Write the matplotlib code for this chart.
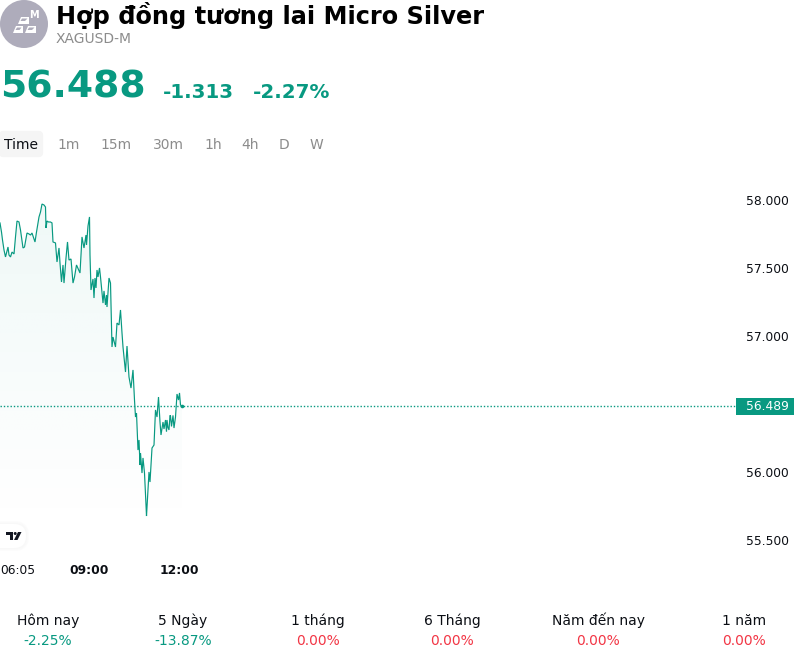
import matplotlib
matplotlib.use("Agg")
import matplotlib.pyplot as plt
import numpy as np
from matplotlib.patches import Circle, FancyBboxPatch, Polygon, Rectangle
from matplotlib.transforms import ScaledTranslation

TEAL = "#089981"
RED = "#f23645"
GREY = "#8c8c8c"
INK = "#0b0e14"

# Session minutes since midnight and the traded price at each of them
minutes = [362, 365, 367, 370, 373, 378, 380, 383, 386, 390, 393, 396, 400, 403, 408, 411,
           416, 420, 423, 426, 432, 435, 440, 443, 446, 450, 453, 454, 456, 459, 463, 466,
           468, 473, 476, 480, 482, 485, 488, 490, 494, 497, 500, 504, 508, 511, 515, 522,
           526, 530, 534, 535, 538, 541, 542, 544, 548, 550, 552, 554, 556, 558, 561, 563,
           568, 570, 573, 575, 576, 580, 583, 586, 588, 593, 596, 600, 603, 606, 608, 613,
           616, 620, 624, 628, 631, 633, 635, 638, 640, 642, 643, 646, 648, 651, 654, 655,
           660, 662, 666, 670, 673, 676, 679, 682, 684, 688, 690, 693, 695, 696, 698, 700,
           702, 703, 705, 706, 708, 710, 713, 716, 719, 721, 723, 726]
prices = [57.835, 57.768, 57.710, 57.636, 57.585, 57.658, 57.599, 57.585, 57.621, 57.607,
          57.732, 57.849, 57.842, 57.783, 57.651, 57.658, 57.761, 57.754, 57.746, 57.761,
          57.695, 57.768, 57.879, 57.915, 57.974, 57.967, 57.952, 57.798, 57.849, 57.842,
          57.842, 57.835, 57.695, 57.688, 57.548, 57.651, 57.540, 57.401, 57.526, 57.393,
          57.577, 57.695, 57.562, 57.570, 57.393, 57.437, 57.526, 57.467, 57.732, 57.651,
          57.746, 57.673, 57.812, 57.879, 57.599, 57.342, 57.423, 57.283, 57.430, 57.357,
          57.489, 57.438, 57.504, 57.438, 57.246, 57.335, 57.232, 57.305, 57.217, 57.430,
          57.393, 56.923, 56.996, 56.923, 57.099, 57.085, 57.195, 57.026, 56.923, 56.739,
          56.930, 56.702, 56.621, 56.754, 56.533, 56.408, 56.437, 56.165, 56.239, 56.055,
          56.143, 55.996, 56.107, 55.996, 55.761, 55.680, 56.004, 55.930, 56.180, 56.202,
          56.460, 56.408, 56.555, 56.371, 56.276, 56.371, 56.320, 56.386, 56.300, 56.386,
          56.330, 56.313, 56.420, 56.416, 56.340, 56.364, 56.420, 56.327, 56.408, 56.577,
          56.533, 56.585, 56.496, 56.489]
last_price = 56.489
price_ticks = [55.5, 56.0, 56.5, 57.0, 57.5, 58.0]
price_tick_labels = ["55.500", "56.000", "", "57.000", "57.500", "58.000"]
time_ticks = [365, 540, 720]
time_tick_labels = ["06:05", "09:00", "12:00"]
intervals = ["Time", "1m", "15m", "30m", "1h", "4h", "D", "W"]
interval_x = [21, 69, 116, 168, 213, 250, 284, 316]
periods = ["Hôm nay", "5 Ngày", "1 tháng", "6 Tháng", "Năm đến nay", "1 năm"]
period_changes = ["-2.25%", "-13.87%", "0.00%", "0.00%", "0.00%", "0.00%"]
period_x = [48, 183, 318, 452, 598, 744]

W, H = 800, 660
fig = plt.figure(figsize=(W / 100, H / 100), dpi=100, facecolor="white")
plt.rcParams["font.family"] = "DejaVu Sans"


def to_fig(left, top, right, bottom):
    return [left / W, 1 - bottom / H, (right - left) / W, (bottom - top) / H]


# Price pane: 0.5 px per minute, 136 px per unit of price
top_px, bottom_px, right_px = 165, 556, 736
ax = fig.add_axes(to_fig(0, top_px, right_px, bottom_px))
x_limits = (362, 362 + right_px * 2)
y_limits = (58 - (bottom_px - 200.5) / 136, 58 + (200.5 - top_px) / 136)
for side in ax.spines.values():
    side.set_visible(False)

# Area under the line fades to white towards the bottom
fade_floor = 58 - (528 - 200.5) / 136
gradient = np.linspace(0, 1, 256).reshape(-1, 1)
rgba = np.ones((256, 1, 4))
rgba[..., :3] = np.array([8, 153, 129]) / 255
rgba[..., 3] = 0.065 * (1 - gradient)
image = ax.imshow(rgba, origin="upper", aspect="auto", interpolation="bilinear",
                  extent=[minutes[0], minutes[-1], fade_floor, max(prices)], zorder=1)
poly = ax.fill_between(minutes, prices, fade_floor, facecolor="none", edgecolor="none")
image.set_clip_path(poly.get_paths()[0], transform=ax.transData)
ax.set_xlim(*x_limits)
ax.set_ylim(*y_limits)

ax.plot(minutes, prices, color=TEAL, lw=0.85, zorder=3, solid_joinstyle="miter")
ax.axhline(last_price, color=TEAL, lw=1, ls=(0, (1, 1.4)), zorder=2)
ax.plot(minutes[-1], last_price, "o", color=TEAL, ms=2.6, mew=0, zorder=4)

ax.yaxis.tick_right()
ax.set_yticks(price_ticks, price_tick_labels, fontsize=8.8, color=INK)
ax.tick_params(axis="y", length=0, pad=7.2)
ax.set_xticks(time_ticks, time_tick_labels, fontsize=8.8, color=INK)
ax.tick_params(axis="x", length=0, pad=5.9)
labels = ax.get_xticklabels()
labels[0].set_ha("left")
labels[0].set_transform(labels[0].get_transform()
                        + ScaledTranslation(-1.5 / 100, 0, fig.dpi_scale_trans))
labels[1].set_fontweight("bold")
labels[2].set_fontweight("bold")

# Overlay in figure pixels for the header, tabs and footer
ov = fig.add_axes([0, 0, 1, 1], facecolor="none", zorder=5)
ov.set_xlim(0, W)
ov.set_ylim(H, 0)
ov.axis("off")

# Round symbol badge with bullion bars
BADGE = "#aeacbb"
ov.add_patch(Circle((24, 24), 24, facecolor=BADGE, edgecolor="none"))
for pts in ([(21, 17), (29, 17), (29, 24), (18, 24)],
            [(16, 26), (23, 26), (23, 33), (13, 33)],
            [(28, 26), (36, 26), (36, 33), (25, 33)]):
    ov.add_patch(Polygon(pts, closed=True, facecolor="white", edgecolor="none"))
for pts in ([(22, 18.5), (27.5, 18.5), (25, 21), (20.5, 21)],
            [(17, 27.5), (21.5, 27.5), (19.5, 30), (15.5, 30)],
            [(29, 27.5), (34.5, 27.5), (32, 30), (27.5, 30)]):
    ov.add_patch(Polygon(pts, closed=True, facecolor=BADGE, edgecolor="none"))
ov.text(33.7, 14.5, "M", color="white", fontsize=7, fontweight="bold", ha="center", va="center")

ov.text(56, 24, "Hợp đồng tương lai Micro Silver", fontsize=17.3, fontweight="bold",
        color="black", va="baseline")
ov.text(56, 43, "XAGUSD-M", fontsize=10, color=GREY, va="baseline")

ov.text(0, 98, "56.488", fontsize=27.2, fontweight="bold", color=TEAL, va="baseline")
ov.text(163, 98, "-1.313", fontsize=14.3, fontweight="bold", color=TEAL, va="baseline")
ov.text(253, 98, "-2.27%", fontsize=14.3, fontweight="bold", color=TEAL, va="baseline")

# Interval selector
ov.add_patch(FancyBboxPatch((3, 135), 36, 18, boxstyle="round,pad=0,rounding_size=0",
                            facecolor="#f5f5f5", edgecolor="#f5f5f5", lw=6, joinstyle="round"))
for i, (name, x) in enumerate(zip(intervals, interval_x)):
    ov.text(x, 149, name, fontsize=10, color=INK if i == 0 else GREY,
            ha="center", va="baseline")

# Last price tag
ov.add_patch(Rectangle((736, 398), 58, 17, facecolor=TEAL, edgecolor="none"))
ov.text(767, 406.5, "56.489", fontsize=8.8, color="white", ha="center", va="center")

# Chart attribution badge with a soft edge
for grow, shade in ((3, "#fcfcfc"), (2, "#fafafa"), (1, "#f8f8f8")):
    ov.add_patch(FancyBboxPatch((-20 - grow, 524 - grow), 46 + 2 * grow, 24 + 2 * grow,
                                boxstyle=f"round,pad=0,rounding_size={12 + grow}",
                                facecolor=shade, edgecolor="none"))
ov.add_patch(FancyBboxPatch((-20, 524), 46, 24, boxstyle="round,pad=0,rounding_size=12",
                            facecolor="white", edgecolor="none"))
ov.add_patch(Polygon([(6, 532), (13, 532), (13, 540), (10, 540), (10, 535), (6, 535)],
                     closed=True, facecolor="#131722", edgecolor="none"))
ov.add_patch(Circle((15.2, 533.5), 1.5, facecolor="#131722", edgecolor="none"))
ov.add_patch(Polygon([(18, 532), (21.5, 532), (17.5, 540), (14, 540)],
                     closed=True, facecolor="#131722", edgecolor="none"))

# Performance footer
for name, change, x in zip(periods, period_changes, period_x):
    ov.text(x, 625, name, fontsize=10, color=INK, ha="center", va="baseline")
    ov.text(x, 645, change, fontsize=10, color=TEAL if change.startswith("-") else RED,
            ha="center", va="baseline")

fig.savefig("out.png", dpi=100, facecolor="white")
